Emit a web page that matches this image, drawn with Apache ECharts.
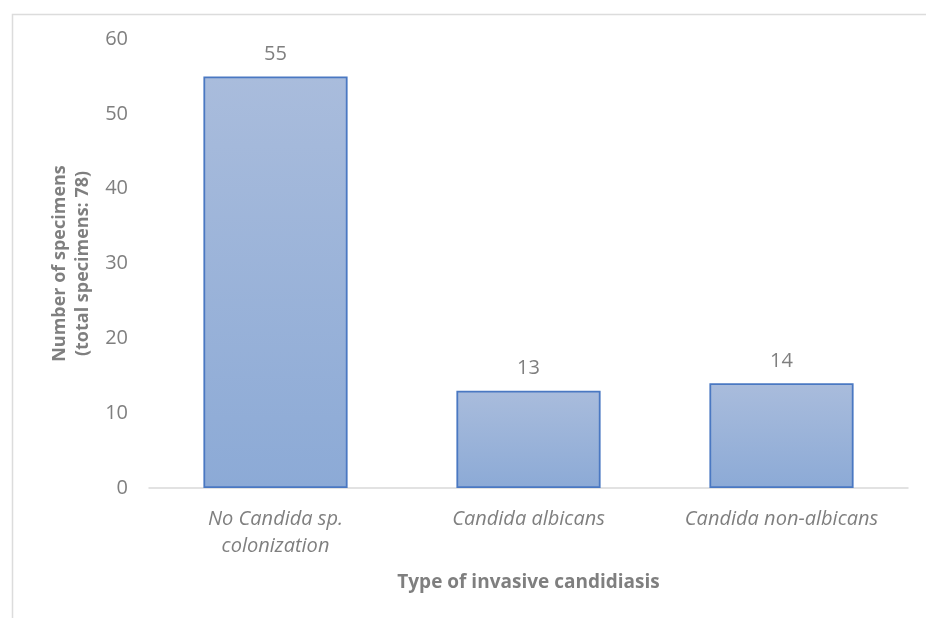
<!DOCTYPE html>
<html><head><meta charset="utf-8">
<script src="https://cdn.jsdelivr.net/npm/echarts@6/dist/echarts.min.js"></script>
<style>html,body{margin:0;padding:0;background:#fff}#c{width:926px;height:618px}</style>
</head><body><div id="c"></div>
<script>
var categories = ['No Candida sp.\ncolonization', 'Candida albicans', 'Candida non-albicans'];
var values = [55, 13, 14];
var yTicks = [0, 10, 20, 30, 40, 50, 60];
var xTitle = 'Type of invasive candidiasis';
var yTitle = 'Number of specimens\n(total specimens: 78)';

var chart = echarts.init(document.getElementById('c'));
var font = '"Open Sans", "Noto Sans", sans-serif';
chart.setOption({
  animation: false,
  graphic: [{
    type: 'rect', left: 10, top: 12,
    shape: { width: 930, height: 620 },
    style: { fill: 'none', stroke: '#dcdcdc', lineWidth: 1.5 }, silent: true
  }],
  grid: { left: 149, right: 18, top: 39, bottom: 130 },
  xAxis: {
    type: 'category', data: categories,
    axisLine: { lineStyle: { color: '#d9d9d9', width: 1.5 } },
    axisTick: { show: false },
    axisLabel: { color: '#7f7f7f', fontFamily: font, fontSize: 20, fontStyle: 'italic', margin: 18, lineHeight: 27 },
    name: xTitle, nameLocation: 'middle', nameGap: 85,
    nameTextStyle: { color: '#7f7f7f', fontFamily: font, fontSize: 19, fontWeight: 'bold' }
  },
  yAxis: {
    type: 'value', min: yTicks[0], max: yTicks[yTicks.length - 1], interval: 10,
    axisLine: { show: false }, axisTick: { show: false },
    splitLine: { show: false },
    axisLabel: { color: '#7f7f7f', fontFamily: font, fontSize: 20, margin: 21 },
    name: yTitle, nameLocation: 'middle', nameGap: 52, nameRotate: 90,
    nameTextStyle: { color: '#7f7f7f', fontFamily: font, fontSize: 18, fontWeight: 'bold', lineHeight: 23 }
  },
  series: [{
    type: 'bar', data: values, barWidth: '57%',
    itemStyle: {
      color: new echarts.graphic.LinearGradient(0, 0, 0, 1, [
        { offset: 0, color: '#a9bcdc' }, { offset: 1, color: '#8caad6' }
      ]),
      borderColor: '#4a78c2', borderWidth: 1.8
    },
    label: { show: true, position: 'top', distance: 12, color: '#7f7f7f', fontFamily: font, fontSize: 20 }
  }]
});
</script></body></html>
